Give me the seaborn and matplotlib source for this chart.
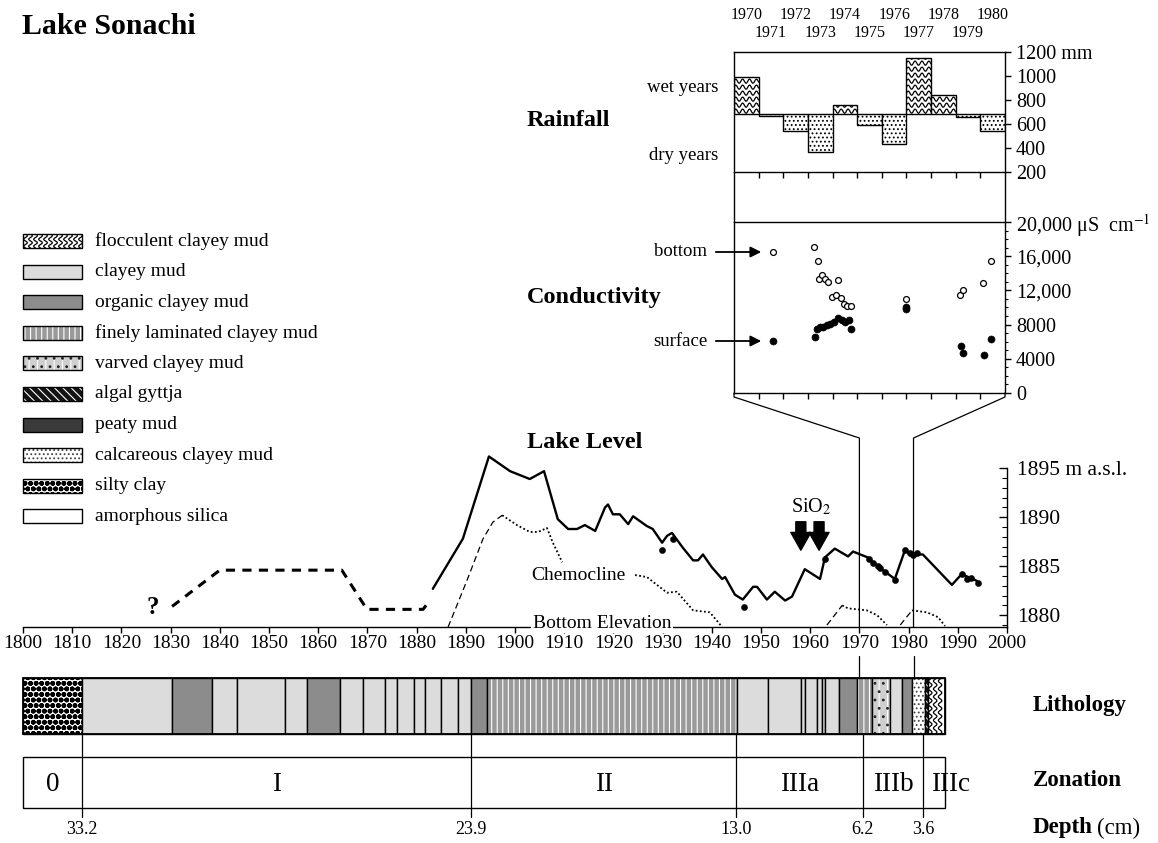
import numpy as np
import matplotlib
matplotlib.use("Agg")
import matplotlib.pyplot as plt
import seaborn as sns
from matplotlib.patches import Rectangle

# ---------------- data ----------------
rain_years = [1970, 1971, 1972, 1973, 1974, 1975, 1976, 1977, 1978, 1979, 1980]
rain_mm = [990, 670, 545, 370, 760, 595, 435, 1150, 840, 660, 545]
rain_mean = 685
rain_ticks = [200, 400, 600, 800, 1000, 1200]
rain_ticklabels = ["200", "400", "600", "800", "1000", "1200 mm"]

cond_bottom_years = [1971.57, 1973.23, 1973.39, 1973.47, 1973.59, 1973.70, 1973.83, 1974.24,
                     1973.97, 1974.15, 1974.35, 1974.47, 1974.60, 1974.74, 1976.98, 1979.19,
                     1979.30, 1980.10, 1980.43]
cond_bottom = [16500, 17100, 15400, 13300, 13800, 13300, 13000, 13200, 11200, 11500, 11100,
               10400, 10200, 10200, 11000, 11500, 12000, 12900, 15400]
cond_surface_years = [1971.60, 1973.27, 1973.36, 1973.50, 1973.63, 1973.77, 1973.90, 1974.04,
                      1974.24, 1974.38, 1974.51, 1974.65, 1974.74, 1976.98, 1976.98, 1979.22,
                      1979.28, 1980.13, 1980.44]
cond_surface = [6100, 6600, 7500, 7700, 7700, 8000, 8100, 8300, 8800, 8500, 8300, 8500, 7500,
                10000, 9800, 5500, 4700, 4500, 6300]
cond_ticks = [0, 4000, 8000, 12000, 16000, 20000]
cond_ticklabels = ["0", "4000", "8000", "12,000", "16,000", "20,000 μS  cm$^{-1}$"]

lake_est_years = [1830.3, 1840.0, 1864.8, 1869.9, 1881.3, 1882.7]
lake_est_level = [1880.9, 1884.6, 1884.6, 1880.6, 1880.6, 1881.5]
lake_years = [1883.3, 1889.4, 1894.7, 1899.0, 1903.0, 1905.9, 1908.7, 1910.8, 1912.6, 1914.2,
              1916.3, 1918.3, 1918.9, 1919.9, 1921.3, 1923.0, 1924.0, 1926.8, 1928.0, 1929.9,
              1930.9, 1931.9, 1934.1, 1936.2, 1937.2, 1938.2, 1940.0, 1942.1, 1942.7, 1944.7,
              1946.3, 1948.4, 1949.2, 1951.2, 1952.8, 1954.9, 1956.3, 1958.9, 1962.0, 1963.0,
              1965.0, 1967.7, 1968.7, 1971.7, 1973.2, 1977.2, 1979.3, 1980.3, 1982.9, 1988.8,
              1990.8, 1993.9]
lake_level = [1882.7, 1887.8, 1896.2, 1894.7, 1893.9, 1894.7, 1889.8, 1888.8, 1888.8, 1889.2,
              1888.6, 1891.0, 1891.3, 1890.3, 1890.3, 1889.3, 1890.1, 1889.1, 1888.8, 1887.4,
              1888.1, 1888.4, 1886.9, 1885.6, 1885.6, 1886.2, 1884.9, 1883.7, 1883.9, 1882.1,
              1881.6, 1882.9, 1882.9, 1881.6, 1882.4, 1881.5, 1881.9, 1884.7, 1883.7, 1885.9,
              1886.8, 1886.0, 1886.5, 1885.9, 1885.2, 1883.7, 1886.7, 1886.2, 1886.2, 1883.1,
              1884.2, 1883.5]
lake_obs_years = [1929.9, 1932.1, 1946.5, 1963.0, 1972.0, 1972.8, 1973.8, 1974.2, 1975.2,
                  1977.2, 1979.3, 1980.3, 1980.9, 1981.7, 1990.9, 1991.9, 1992.7, 1994.1]
lake_obs_level = [1886.7, 1887.8, 1880.8, 1885.7, 1885.7, 1885.3, 1885.0, 1884.8, 1884.4,
                  1883.6, 1886.7, 1886.4, 1886.1, 1886.4, 1884.2, 1883.7, 1883.8, 1883.3]

chemo_rise_years = [1886.4, 1890.2, 1893.5, 1895.5, 1897.4]
chemo_rise_level = [1878.8, 1883.5, 1887.8, 1889.5, 1890.2]
chemo_top_years = [1897.4, 1900.4, 1903.0, 1904.7, 1906.5, 1907.7, 1909.6]
chemo_top_level = [1890.2, 1889.2, 1888.5, 1888.5, 1888.9, 1887.4, 1885.4]
chemo_low_years = [1924.4, 1926.8, 1930.9, 1932.9, 1936.2, 1939.6, 1942.1]
chemo_low_level = [1884.1, 1883.9, 1882.3, 1882.4, 1880.5, 1880.3, 1878.8]
chemo_h1_rise_years = [1963.4, 1966.5]
chemo_h1_rise_level = [1879.0, 1881.0]
chemo_h1_years = [1966.5, 1967.7, 1971.5, 1973.6, 1975.6]
chemo_h1_level = [1881.0, 1880.7, 1880.5, 1880.0, 1879.0]
chemo_h2_rise_years = [1978.3, 1980.7]
chemo_h2_rise_level = [1879.0, 1880.5]
chemo_h2_years = [1980.7, 1983.7, 1986.0, 1987.4]
chemo_h2_level = [1880.5, 1880.3, 1879.8, 1878.9]

sio2_years = [1958.1, 1961.8]

year_ticks = list(range(1800, 2001, 10))
level_ticks = [1880, 1885, 1890, 1895]
level_ticklabels = ["1880", "1885", "1890", "1895 m a.s.l."]

legend_names = ["flocculent clayey mud", "clayey mud", "organic clayey mud",
                "finely laminated clayey mud", "varved clayey mud", "algal gyttja",
                "peaty mud", "calcareous clayey mud", "silty clay", "amorphous silica"]
legend_keys = ["flocculent", "clayey", "organic", "laminated", "varved", "algal",
               "peaty", "calcareous", "silty", "amorphous"]

litho_edges = [1800.0, 1812.0, 1830.3, 1838.4, 1843.5, 1853.3, 1857.7, 1864.4, 1869.1,
               1873.6, 1876.0, 1879.5, 1881.7, 1885.0, 1888.4, 1891.1, 1894.3, 1945.1,
               1951.4, 1958.1, 1958.9, 1961.4, 1962.4, 1963.0, 1965.9, 1969.5, 1972.6,
               1976.2, 1978.7, 1980.7, 1983.3, 1983.9, 1987.4]
litho_types = ["silty", "clayey", "organic", "clayey", "clayey", "clayey", "organic",
               "clayey", "clayey", "clayey", "clayey", "clayey", "clayey", "clayey", "clayey",
               "organic", "laminated", "clayey", "clayey", "clayey", "clayey", "clayey",
               "clayey", "clayey", "organic", "laminated", "varved", "clayey", "organic",
               "calcareous", "algal", "flocculent"]

zone_edges = [1800.0, 1812.0, 1891.1, 1945.0, 1970.7, 1982.9, 1987.4]
zone_labels = ["0", "I", "II", "IIIa", "IIIb", "IIIc"]
zone_label_years = [1806.0, 1851.5, 1918.0, 1957.9, 1976.8, 1988.6]
depth_labels = ["33.2", "23.9", "13.0", "6.2", "3.6"]

# ---------------- style ----------------
sns.set_theme(style="white", rc={"axes.edgecolor": "black", "axes.linewidth": 1.0,
                                 "xtick.color": "black", "ytick.color": "black",
                                 "text.color": "black"})
plt.rcParams["font.family"] = ["Liberation Serif", "DejaVu Serif"]
plt.rcParams["mathtext.fontset"] = "stix"
plt.rcParams["hatch.linewidth"] = 0.8

W, H = 1158, 843
fig = plt.figure(figsize=(W / 100, H / 100), dpi=100)
fig.patch.set_facecolor("white")


def add_ax(x0, y0, x1, y1):
    return fig.add_axes([x0 / W, 1 - y1 / H, (x1 - x0) / W, (y1 - y0) / H])


X0, X1 = 23, 1007


def px(year):
    return X0 + (year - 1800) * (X1 - X0) / 200.0


STY = {
    "flocculent": dict(fc="white", over=[]),
    "clayey": dict(fc="#dcdcdc", over=[]),
    "organic": dict(fc="#8c8c8c", over=[]),
    "laminated": dict(fc="#9a9a9a", over=[("|||", "white", 0.8)]),
    "varved": dict(fc="#cfcfcf", over=[("||", "white", 0.8), ("..", "#222222", 0.8)]),
    "algal": dict(fc="#141414", over=[("\\\\\\\\", "white", 0.8)]),
    "peaty": dict(fc="#3a3a3a", over=[]),
    "calcareous": dict(fc="white", over=[("....", "#444444", 0.8)]),
    "silty": dict(fc="white", over=[("ooo", "black", 1.8)]),
    "amorphous": dict(fc="white", over=[]),
}


def draw_unit(ax, x, y, w, h, key, dx, amp, period, lw=1.0):
    st = STY[key]
    base = Rectangle((x, y), w, h, facecolor=st["fc"], edgecolor="black", lw=0, clip_on=False)
    ax.add_patch(base)
    for hatch, col, hlw in st["over"]:
        with plt.rc_context({"hatch.linewidth": hlw}):
            p = Rectangle((x, y), w, h, facecolor="none", edgecolor=col, lw=0, hatch=hatch,
                          clip_on=False)
            if hasattr(p, "set_hatch_linewidth"):
                p.set_hatch_linewidth(hlw)
        ax.add_patch(p)
    if key == "flocculent":
        ys = np.linspace(y, y + h, 120)
        cx = x + dx / 2
        while cx < x + w:
            xs = cx + amp * np.sin(2 * np.pi * (ys - y) / period)
            ln, = ax.plot(xs, ys, color="black", lw=0.9)
            ln.set_clip_path(base)
            cx += dx
    ax.add_patch(Rectangle((x, y), w, h, facecolor="none", edgecolor="black", lw=lw,
                           clip_on=False))


# ---------------- lake level ----------------
ax_lake = add_ax(X0, 430, X1, 627)
ax_lake.set_xlim(1800, 2000)
ax_lake.set_ylim(1878.8, 1878.8 + 197 / 9.8)
ax_lake.patch.set_alpha(0)
for s in ["top", "left"]:
    ax_lake.spines[s].set_visible(False)
ax_lake.spines["right"].set_bounds(1878.8, 1895)
ax_lake.yaxis.tick_right()
ax_lake.set_yticks(level_ticks)
ax_lake.set_yticklabels(level_ticklabels)
ax_lake.set_yticks(np.arange(1879, 1896), minor=True)
ax_lake.set_xticks(year_ticks)
ax_lake.set_xticklabels([str(t) for t in year_ticks])
ax_lake.tick_params(axis="y", which="major", direction="in", right=True, left=False,
                    length=6, width=1, labelsize=15.5, pad=7)
ax_lake.tick_params(axis="y", which="minor", direction="in", right=True, left=False,
                    length=3.5, width=0.8)
ax_lake.tick_params(axis="x", which="major", direction="out", bottom=True,
                    length=4, width=1, labelsize=14, pad=2)

sns.lineplot(x=lake_est_years, y=lake_est_level, ax=ax_lake, color="black", lw=2.2,
             linestyle=(0, (3, 2.4)), sort=False, estimator=None)
sns.lineplot(x=lake_years, y=lake_level, ax=ax_lake, color="black", lw=1.7,
             sort=False, estimator=None)
for xs, ys in [(chemo_rise_years, chemo_rise_level), (chemo_h1_rise_years, chemo_h1_rise_level),
               (chemo_h2_rise_years, chemo_h2_rise_level)]:
    sns.lineplot(x=xs, y=ys, ax=ax_lake, color="black", lw=0.9, linestyle=(0, (5, 3)),
                 sort=False, estimator=None)
for xs, ys in [(chemo_top_years, chemo_top_level), (chemo_low_years, chemo_low_level),
               (chemo_h1_years, chemo_h1_level), (chemo_h2_years, chemo_h2_level)]:
    sns.lineplot(x=xs, y=ys, ax=ax_lake, color="black", lw=1.3, linestyle=(0, (1, 1.3)),
                 sort=False, estimator=None)
sns.scatterplot(x=lake_obs_years, y=lake_obs_level, ax=ax_lake, color="black", s=20,
                edgecolor="black", linewidth=0.3, zorder=4)
ax_lake.set_xlabel("")
ax_lake.set_ylabel("")

# ---------------- lithology ----------------
ax_lith = add_ax(X0, 678, X1, 734)
ax_lith.set_xlim(1800, 2000)
ax_lith.set_ylim(0, 1)
ax_lith.axis("off")
for a, b, t in zip(litho_edges[:-1], litho_edges[1:], litho_types):
    draw_unit(ax_lith, a, 0, b - a, 1, t, dx=1.0, amp=0.35, period=0.14)
ax_lith.add_patch(Rectangle((litho_edges[0], 0), litho_edges[-1] - litho_edges[0], 1,
                            facecolor="none", edgecolor="black", lw=1.3, clip_on=False))

# ---------------- zonation ----------------
ax_zone = add_ax(X0, 757, X1, 808)
ax_zone.set_xlim(1800, 2000)
ax_zone.set_ylim(0, 1)
ax_zone.axis("off")
ax_zone.add_patch(Rectangle((zone_edges[0], 0), zone_edges[-1] - zone_edges[0], 1,
                            facecolor="none", edgecolor="black", lw=1.0, clip_on=False))
for lab, xl in zip(zone_labels, zone_label_years):
    ax_zone.text(xl, 0.47, lab, ha="center", va="center", fontsize=19.5)

# ---------------- rainfall ----------------
ax_rain = add_ax(734, 52, 1005, 172)
ax_rain.set_xlim(1970, 1981)
ax_rain.set_ylim(200, 1200)
heights = [v - rain_mean for v in rain_mm]
bars = ax_rain.bar(rain_years, heights, bottom=rain_mean, width=1, align="edge",
                   facecolor="white", edgecolor="black", lw=1.0, zorder=2)
for bar, yr, v in zip(bars, rain_years, rain_mm):
    if v > rain_mean:
        xs = np.linspace(yr, yr + 1, 90)
        row = rain_mean + 22
        while row < v + 30:
            ys = row + 17 * np.sin(2 * np.pi * (xs - yr) / 0.28)
            ln, = ax_rain.plot(xs, ys, color="black", lw=0.9, zorder=3)
            ln.set_clip_path(bar)
            row += 50
    else:
        bar.set_hatch("....")
ax_rain.yaxis.tick_right()
ax_rain.set_yticks(rain_ticks)
ax_rain.set_yticklabels(rain_ticklabels)
ax_rain.set_xticks(rain_years[1:])
ax_rain.set_xticklabels([])
ax_rain.tick_params(axis="y", direction="out", right=True, left=False, length=4, width=1,
                    labelsize=14.5, pad=4)
ax_rain.tick_params(axis="x", direction="out", bottom=True, length=4, width=1)
for i, yr in enumerate(rain_years):
    ax_rain.text(yr + 0.5, 1.305 if i % 2 == 0 else 1.155, str(yr),
                 transform=ax_rain.get_xaxis_transform(), ha="center", va="center",
                 fontsize=11.5)

# ---------------- conductivity ----------------
ax_cond = add_ax(734, 222, 1005, 393)
ax_cond.set_xlim(1970, 1981)
ax_cond.set_ylim(0, 20000)
sns.scatterplot(x=cond_bottom_years, y=cond_bottom, ax=ax_cond, s=18, facecolor="white",
                edgecolor="black", linewidth=0.9, zorder=3)
sns.scatterplot(x=cond_surface_years, y=cond_surface, ax=ax_cond, s=26, color="black",
                edgecolor="black", linewidth=0.4, zorder=3)
ax_cond.yaxis.tick_right()
ax_cond.set_yticks(cond_ticks)
ax_cond.set_yticklabels(cond_ticklabels)
ax_cond.set_yticks(np.arange(0, 20001, 1000), minor=True)
ax_cond.set_xticks(rain_years[1:])
ax_cond.set_xticklabels([])
ax_cond.tick_params(axis="y", which="major", direction="out", right=True, left=False,
                    length=4, width=1, labelsize=14.5, pad=4)
ax_cond.tick_params(axis="y", which="minor", direction="out", right=True, left=False,
                    length=2.5, width=0.8)
ax_cond.tick_params(axis="x", direction="out", bottom=True, length=4, width=1)
ax_cond.set_xlabel("")
ax_cond.set_ylabel("")

# ---------------- overlay (labels, legend, connectors) ----------------
ov = fig.add_axes([0, 0, 1, 1])
ov.set_xlim(0, W)
ov.set_ylim(H, 0)
ov.axis("off")

ov.text(22, 27, "Lake Sonachi", fontsize=21.5, fontweight="bold", ha="left", va="center")

for i, (name, key) in enumerate(zip(legend_names, legend_keys)):
    yc = 241 + 30.6 * i
    draw_unit(ov, 23, yc - 7, 59, 14, key, dx=5.0, amp=1.8, period=7.0, lw=1.0)
    ov.text(95, yc, name, fontsize=14, ha="left", va="center")

ov.text(527, 120, "Rainfall", fontsize=17.5, fontweight="bold", ha="left", va="center")
ov.text(718, 88, "wet years", fontsize=13.5, ha="right", va="center")
ov.text(718, 155, "dry years", fontsize=13.5, ha="right", va="center")
ov.text(527, 297, "Conductivity", fontsize=17.5, fontweight="bold", ha="left", va="center")
ov.text(707, 252, "bottom", fontsize=13.5, ha="right", va="center")
ov.text(707, 341, "surface", fontsize=13.5, ha="right", va="center")
for yy in (252, 341):
    ov.annotate("", xy=(764, yy), xytext=(713, yy),
                arrowprops=dict(arrowstyle="-|>", color="black", lw=1.3, mutation_scale=16))
ov.text(527, 443, "Lake Level", fontsize=17.5, fontweight="bold", ha="left", va="center")
ov.text(153, 607, "?", fontsize=18, fontweight="bold", ha="center", va="center")
ov.text(578, 575, "Chemocline", fontsize=14, ha="center", va="center")
ov.text(602, 623, "Bottom Elevation", fontsize=14, ha="center", va="center",
        bbox=dict(facecolor="white", edgecolor="none", pad=1.0))
ov.text(811, 507, "SiO$_2$", fontsize=14.5, ha="center", va="center")
for yr in sio2_years:
    ov.annotate("", xy=(px(yr), 553), xytext=(px(yr), 519),
                arrowprops=dict(arrowstyle="simple,head_length=0.8,head_width=0.9,tail_width=0.45",
                                color="black", mutation_scale=16))

# frame between rainfall and conductivity panels + connectors
for xx in (734, 1005):
    ov.plot([xx, xx], [172, 222], color="black", lw=1.0)
ov.plot([734, 734, px(1970), px(1970)], [393, 397, 438, 627], color="black", lw=0.9)
ov.plot([1005, 1005, px(1981), px(1981)], [393, 397, 438, 627], color="black", lw=0.9)
for yr in (1970, 1981):
    ov.plot([px(yr), px(yr)], [656, 678], color="black", lw=0.9)

# depth lines and labels
for e, lab in zip(zone_edges[1:-1], depth_labels):
    ov.plot([px(e), px(e)], [734, 817], color="black", lw=0.9)
    ov.text(px(e), 830, lab, fontsize=13, ha="center", va="center")

ov.text(1033, 705, "Lithology", fontsize=16.5, fontweight="bold", ha="left", va="center")
ov.text(1033, 780, "Zonation", fontsize=16.5, fontweight="bold", ha="left", va="center")
ov.text(1033, 828, "Depth", fontsize=16.5, fontweight="bold", ha="left", va="center")
ov.text(1097, 828, "(cm)", fontsize=16.5, ha="left", va="center")

fig.savefig("out.png", dpi=100, facecolor="white")
